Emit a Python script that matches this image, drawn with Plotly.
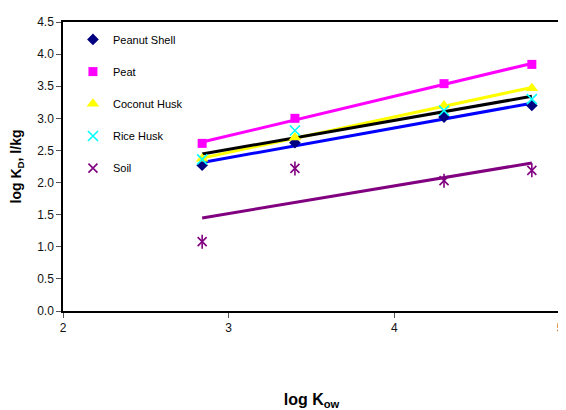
import numpy as np
import plotly.graph_objects as go

log_kow = [2.84, 3.40, 4.30, 4.83]

series_names = ["Peanut Shell", "Peat", "Coconut Husk", "Rice Husk", "Soil"]
peanut_shell = [2.27, 2.62, 3.02, 3.20]
peat = [2.61, 3.00, 3.54, 3.84]
coconut_husk = [2.37, 2.70, 3.20, 3.47]
rice_husk = [2.36, 2.81, 3.12, 3.30]
soil = [1.08, 2.22, 2.03, 2.19]

series_values = [peanut_shell, peat, coconut_husk, rice_husk, soil]
marker_colors = ["#000080", "#FF00FF", "#FFFF00", "#00FFFF", "#800080"]
line_colors = ["#0000FF", "#FF00FF", "#FFFF00", "#000000", "#800080"]
symbols = ["diamond", "square", "triangle-up", "x-thin-open", "x-thin-open"]
sizes = [9, 9, 11, 10, 9]

x_ticks = [2, 3, 4, 5]
y_ticks = [0.0, 0.5, 1.0, 1.5, 2.0, 2.5, 3.0, 3.5, 4.0, 4.5]

fig = go.Figure()

# trend lines (linear regression, as in the original spreadsheet)
xs = np.array(log_kow)
for name, vals, lc in zip(series_names, series_values, line_colors):
    m, b = np.polyfit(xs, np.array(vals), 1)
    xl = [xs.min(), xs.max()]
    fig.add_trace(go.Scatter(
        x=xl, y=[m * v + b for v in xl], mode="lines",
        line=dict(color=lc, width=3), showlegend=False, hoverinfo="skip"))

for i, (name, vals, mc, sym, sz) in enumerate(zip(series_names, series_values, marker_colors, symbols, sizes)):
    open_sym = sym.endswith("open")
    fig.add_trace(go.Scatter(
        x=log_kow, y=vals, mode="markers", name=name, legendgroup=f"g{i}",
        marker=dict(symbol=sym, color=mc, size=sz,
                    line=dict(color=mc, width=1.6 if open_sym else 0))))

# vertical bar of the soil "star" marker
fig.add_trace(go.Scatter(
    x=log_kow, y=soil, mode="markers", showlegend=False, legendgroup="g4", hoverinfo="skip",
    marker=dict(symbol="line-ns-open", color="#800080", size=10, line=dict(color="#800080", width=1.6))))

axis_common = dict(showgrid=False, zeroline=False, showline=True, linecolor="#000000",
                   linewidth=1.5, mirror=True, ticks="outside", ticklen=5,
                   tickcolor="#555555", tickfont=dict(family="Arial, Liberation Sans", size=12, color="#111111"))

fig.update_layout(
    width=558, height=402,
    margin=dict(l=55, r=2, t=14, b=97),
    paper_bgcolor="white", plot_bgcolor="white",
    font=dict(family="Arial, Liberation Sans"),
    xaxis=dict(range=[2, 5], tickvals=x_ticks, ticktext=[str(v) for v in x_ticks],
               title=dict(text="<b>log K<sub>ow</sub></b>", font=dict(size=16, color="#000"), standoff=62),
               **axis_common),
    yaxis=dict(range=[0, 4.5], tickvals=y_ticks, ticktext=[f"{v:.1f}" for v in y_ticks],
               title=dict(text="<b>log K<sub>D</sub>, l/kg</b>", font=dict(size=14, color="#000"), standoff=12),
               **axis_common),
    legend=dict(x=0.02, y=0.99, xanchor="left", yanchor="top", bgcolor="rgba(0,0,0,0)",
                font=dict(size=11, color="#000"), tracegroupgap=13.2, itemwidth=30),
)

fig.write_html("out.html")
